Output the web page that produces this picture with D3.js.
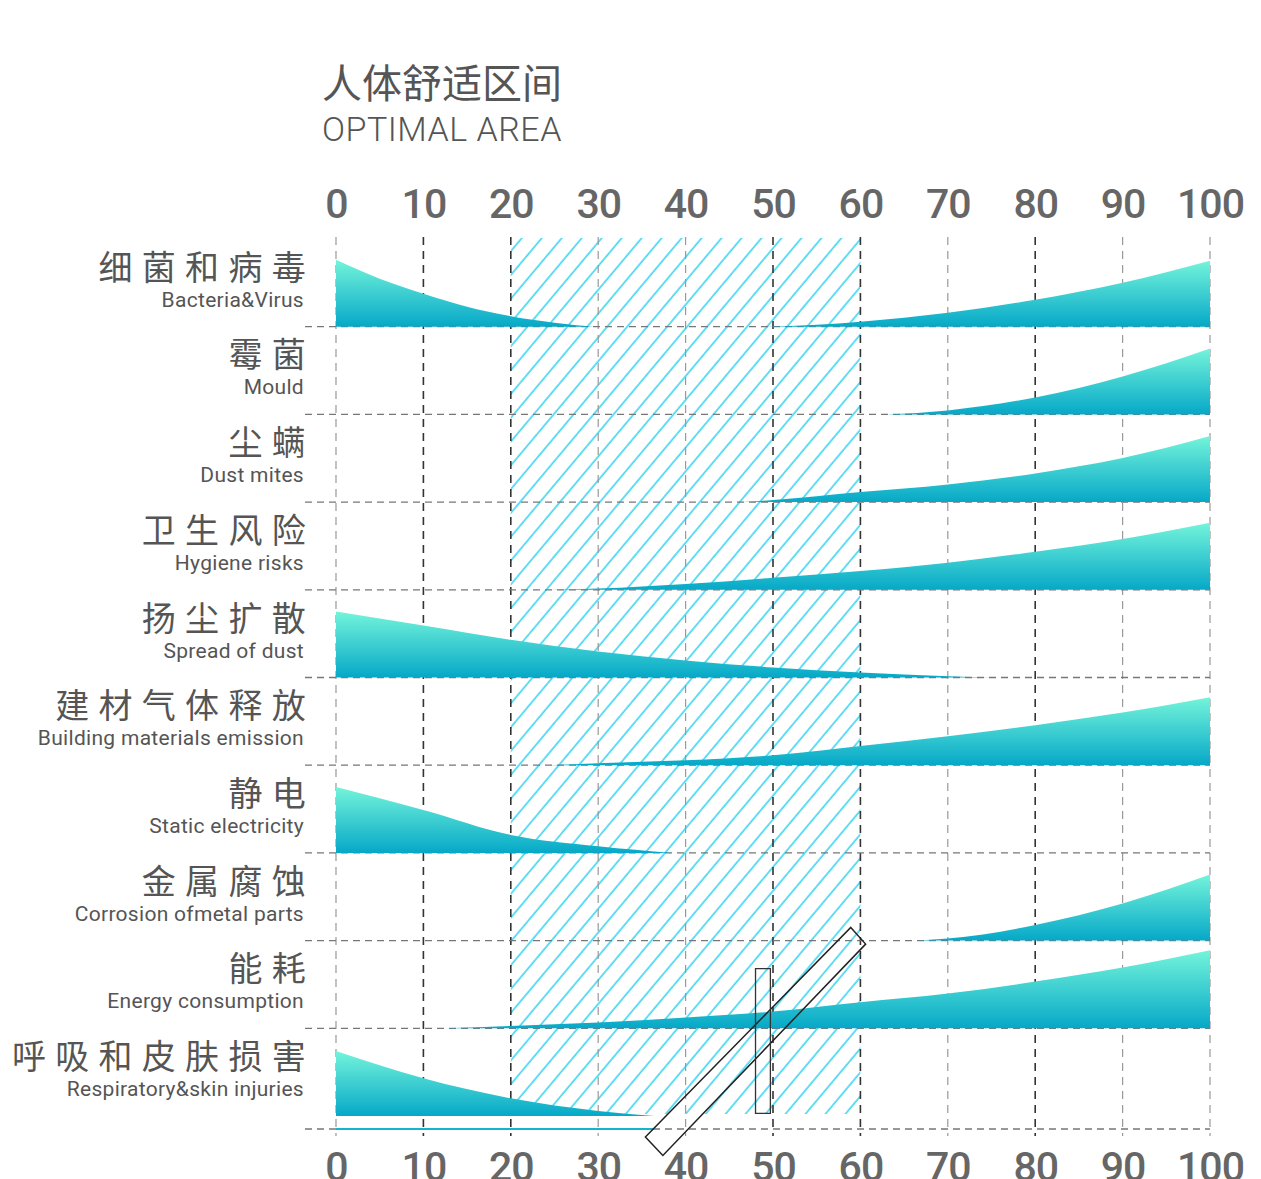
<!DOCTYPE html>
<html>
<head>
<meta charset="utf-8">
<script src="https://cdn.jsdelivr.net/npm/d3@7"></script>
<style>
  html, body { margin: 0; padding: 0; background: #fff; }
  svg { display: block; }
</style>
</head>
<body>
<div id="chart"></div>
<script>
// rows, top to bottom
const categoriesZh = ["细菌和病毒", "霉菌", "尘螨", "卫生风险", "扬尘扩散", "建材气体释放", "静电", "金属腐蚀", "能耗", "呼吸和皮肤损害"];
const categoriesEn = ["Bacteria&Virus", "Mould", "Dust mites", "Hygiene risks", "Spread of dust", "Building materials emission", "Static electricity", "Corrosion ofmetal parts", "Energy consumption", "Respiratory&skin injuries"];
const xTicks = [0, 10, 20, 30, 40, 50, 60, 70, 80, 90, 100];
const darkTicks = [10, 20, 50, 60, 80];
const optimalRange = [20, 60];

// [humidity %, level]
const bacteriaLow = [[0, 67], [5, 48], [10, 33], [15, 20], [20, 10.5], [25, 4], [29.5, 0]];
const bacteriaHigh = [[49, 0], [55, 2], [60, 5], [70, 14], [80, 27], [90, 44], [100, 66]];
const mould = [[63, 0], [70, 4], [80, 17], [90, 38], [100, 66]];
const dustMites = [[46.5, 0], [50, 2], [60, 10], [70, 17.7], [80, 28.7], [90, 44], [100, 66]];
const hygiene = [[24.3, 0], [30, 1.2], [40, 5.7], [50, 12], [60, 18.7], [70, 27], [80, 38], [90, 50.7], [100, 67]];
const dustSpread = [[0, 66], [10, 52], [20, 37.7], [30, 26], [40, 17], [50, 10], [60, 5], [70, 1.2], [75, 0]];
const emission = [[24.4, 0], [30, 2], [40, 5], [50, 10], [60, 19.3], [70, 29], [80, 40], [90, 52.7], [100, 68]];
const staticElec = [[0, 66], [10, 43], [20, 18], [30, 6.7], [38.5, 0]];
const corrosion = [[66.7, 0], [70, 2], [80, 15.5], [90, 37], [100, 66]];
const energy = [[12.5, 0], [20, 2.3], [30, 5.7], [40, 10.7], [50, 16.7], [60, 26], [70, 34.7], [80, 46.7], [90, 60.7], [100, 78]];
const respiratory = [[0, 65], [10, 37.7], [20, 17.7], [30, 5], [36.4, 0]];

const rowShapes = [
  [bacteriaLow, bacteriaHigh], [mould], [dustMites], [hygiene], [dustSpread],
  [emission], [staticElec], [corrosion], [energy], [respiratory]
];

// stray outlines at the bottom of the picture: [x value, row position]
const slantBox = [[58.9, 7.85], [60.6, 8.04], [37.4, 10.45], [35.4, 10.24]];
const uprightBox = [[48.0, 8.32], [49.7, 8.32], [49.7, 9.97], [48.0, 9.97]];
const bottomTrace = [0, 36.4];

const W = 1261, H = 1179;
const plotTop = 239, plotBottom = 1116;

const svg = d3.select("#chart").append("svg")
  .attr("width", W).attr("height", H);

const x = d3.scaleLinear().domain([0, 100]).range([336, 1210]);
const rows = d3.scaleBand().domain(categoriesZh).range([plotTop, plotBottom]);
const rowPos = d3.scaleLinear().domain([0, 10]).range([plotTop, plotBottom]);
const level = d3.scaleLinear().domain([0, 100]).range([0, 100]);
const baseOf = (i) => rows(categoriesZh[i]) + rows.bandwidth();

const defs = svg.append("defs");
const grad = defs.append("linearGradient")
  .attr("id", "fillGrad").attr("x1", 0).attr("y1", 0).attr("x2", 0).attr("y2", 1);
grad.append("stop").attr("offset", "0%").attr("stop-color", "#74f4da");
grad.append("stop").attr("offset", "100%").attr("stop-color", "#06a8c8");

const hatch = defs.append("pattern")
  .attr("id", "hatch").attr("patternUnits", "userSpaceOnUse")
  .attr("width", 15.3).attr("height", 20)
  .attr("patternTransform", "rotate(40)");
hatch.append("line")
  .attr("x1", 2).attr("y1", 0).attr("x2", 2).attr("y2", 20)
  .attr("stroke", "#3dd6f2").attr("stroke-width", 1.6);

// title
svg.append("text")
  .attr("x", 322).attr("y", 98)
  .style("font-family", "'Noto Sans CJK SC', sans-serif")
  .style("font-size", "40px").style("fill", "#555")
  .text("人体舒适区间");
svg.append("text")
  .attr("x", 322).attr("y", 141)
  .style("font-family", "Roboto, sans-serif").style("font-weight", 300)
  .style("font-size", "34px").style("letter-spacing", "0.5px").style("fill", "#555")
  .text("OPTIMAL AREA");

// optimal band
svg.append("rect")
  .attr("x", x(optimalRange[0])).attr("y", plotTop - 1)
  .attr("width", x(optimalRange[1]) - x(optimalRange[0]))
  .attr("height", baseOf(9) - plotTop - 1)
  .attr("fill", "url(#hatch)");

// vertical grid
svg.append("g").selectAll("line")
  .data(xTicks)
  .join("line")
  .attr("x1", d => x(d)).attr("x2", d => x(d))
  .attr("y1", plotTop - 2).attr("y2", baseOf(9) + 20)
  .attr("stroke", d => darkTicks.includes(d) ? "#333" : "#999")
  .attr("stroke-width", d => darkTicks.includes(d) ? 1.6 : 1.2)
  .attr("stroke-dasharray", "8,6");

// horizontal row lines
const hLines = categoriesZh.map((c, i) => i < 9 ? baseOf(i) : baseOf(i) + 13);
svg.append("g").selectAll("line")
  .data(hLines)
  .join("line")
  .attr("x1", 305).attr("x2", x(100))
  .attr("y1", d => d).attr("y2", d => d)
  .attr("stroke", "#777").attr("stroke-width", 1.3)
  .attr("stroke-dasharray", "7,5");

svg.append("line")
  .attr("x1", x(bottomTrace[0])).attr("x2", x(bottomTrace[1]))
  .attr("y1", hLines[9]).attr("y2", hLines[9])
  .attr("stroke", "#14b4cf").attr("stroke-width", 2);

// shapes
rowShapes.forEach((shapes, i) => {
  const base = baseOf(i);
  const area = d3.area()
    .x(d => x(d[0]))
    .y0(base)
    .y1(d => base - level(d[1]))
    .curve(d3.curveMonotoneX);
  svg.append("g").selectAll("path")
    .data(shapes)
    .join("path")
    .attr("d", area)
    .attr("fill", "url(#fillGrad)");
});

// row labels
const labels = svg.append("g");
categoriesZh.forEach((c, i) => {
  const base = baseOf(i);
  labels.append("text")
    .attr("x", 315).attr("y", base - 47)
    .attr("text-anchor", "end")
    .style("font-family", "'Noto Sans CJK SC', sans-serif")
    .style("font-size", "34px").style("letter-spacing", "9.3px")
    .style("fill", "#555")
    .text(c);
  labels.append("text")
    .attr("x", 304).attr("y", base - 20)
    .attr("text-anchor", "end")
    .style("font-family", "Roboto, sans-serif")
    .style("font-size", "21px").style("letter-spacing", "0.3px")
    .style("fill", "#555")
    .text(categoriesEn[i]);
});

// axes
const tickStyle = g => {
  g.select(".domain").remove();
  g.selectAll("text")
    .style("font-family", "Roboto, sans-serif")
    .style("font-weight", 500)
    .style("font-size", "41px")
    .style("letter-spacing", "-1px")
    .style("fill", "#666");
};
svg.append("g")
  .attr("transform", "translate(0,218)")
  .call(d3.axisTop(x).tickValues(xTicks).tickSize(0).tickPadding(0))
  .call(tickStyle);
svg.append("g")
  .attr("transform", "translate(0,1152)")
  .call(d3.axisBottom(x).tickValues(xTicks).tickSize(0).tickPadding(0))
  .call(tickStyle);

// stray outlines
const outline = d3.line().x(d => x(d[0])).y(d => rowPos(d[1])).curve(d3.curveLinearClosed);
svg.append("path").attr("d", outline(slantBox))
  .attr("fill", "none").attr("stroke", "#222").attr("stroke-width", 1.5);
svg.append("path").attr("d", outline(uprightBox))
  .attr("fill", "none").attr("stroke", "#333").attr("stroke-width", 1.3);
</script>
</body>
</html>
